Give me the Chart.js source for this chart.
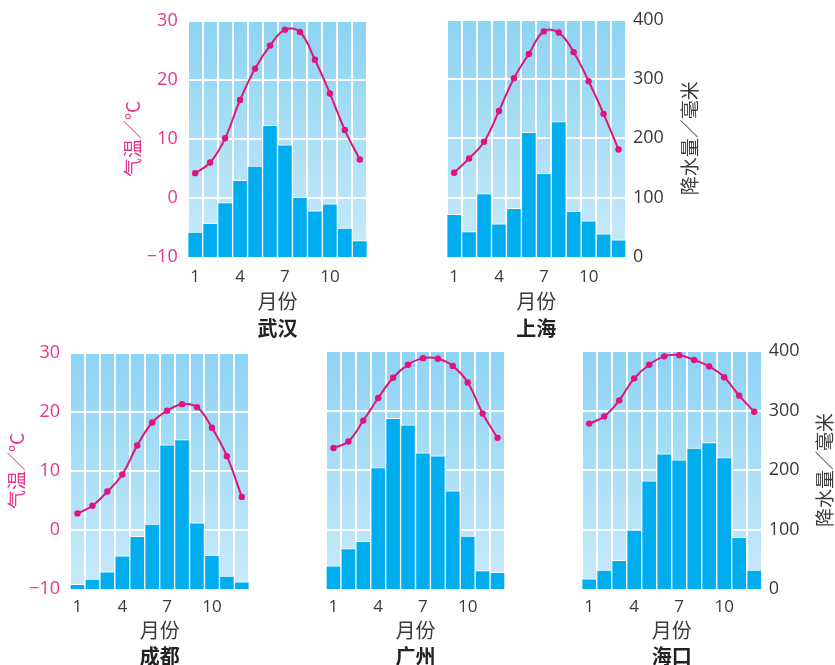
<!DOCTYPE html>
<html>
<head>
<meta charset="utf-8">
<script src="https://cdn.jsdelivr.net/npm/chart.js@4"></script>
<style>
  html, body { margin: 0; padding: 0; background: #fff; overflow: hidden; }
  body { width: 835px; height: 665px; position: relative; }
  .panel { position: absolute; }
</style>
</head>
<body>
<div class="panel" id="p-wuhan" style="left:100px;top:0;width:280px;height:340px"><canvas id="c-wuhan"></canvas></div>
<div class="panel" id="p-shanghai" style="left:420px;top:0;width:290px;height:340px"><canvas id="c-shanghai"></canvas></div>
<div class="panel" id="p-chengdu" style="left:0;top:332px;width:265px;height:340px"><canvas id="c-chengdu"></canvas></div>
<div class="panel" id="p-guangzhou" style="left:300px;top:332px;width:230px;height:340px"><canvas id="c-guangzhou"></canvas></div>
<div class="panel" id="p-haikou" style="left:560px;top:332px;width:275px;height:340px"><canvas id="c-haikou"></canvas></div>
<script>
// months and tick labels
const months = ['1', '2', '3', '4', '5', '6', '7', '8', '9', '10', '11', '12'];
const shownMonths = ['1', '4', '7', '10'];
const tempTicks = [-10, 0, 10, 20, 30];
const rainTicks = [0, 100, 200, 300, 400];

// 气温 (°C) and 降水量 (毫米)
const wuhanTemp = [4.2, 6.0, 10.1, 16.6, 21.9, 25.8, 28.5, 28.1, 23.4, 17.7, 11.5, 6.5];
const wuhanRain = [42, 57, 92, 130, 154, 223, 190, 101, 78, 90, 49, 28];
const shanghaiTemp = [4.2, 6.6, 9.4, 14.6, 20.1, 24.2, 28.0, 27.8, 24.5, 19.6, 14.1, 8.1];
const shanghaiRain = [72, 43, 107, 56, 82, 210, 141, 228, 77, 61, 39, 29];
const chengduTemp = [2.8, 4.1, 6.5, 9.4, 14.3, 18.2, 20.2, 21.3, 20.8, 17.3, 12.5, 5.6];
const chengduRain = [8, 17, 29, 56, 89, 110, 244, 253, 112, 57, 22, 12];
const guangzhouTemp = [13.7, 14.8, 18.3, 22.1, 25.5, 27.7, 28.8, 28.7, 27.5, 24.7, 19.5, 15.4];
const guangzhouRain = [39, 68, 80, 204, 287, 276, 229, 224, 165, 89, 31, 28];
const haikouTemp = [17.8, 19.0, 21.7, 25.4, 27.7, 29.1, 29.3, 28.5, 27.4, 25.6, 22.5, 19.8];
const haikouRain = [17, 32, 48, 99, 182, 227, 217, 237, 246, 221, 87, 32];

const PINK = '#e8348b';
const LINE = '#e0147c';
const GREY = '#3a3a3a';
const BAR = '#00aeef';
const NUM_FONT = "'Open Sans', 'Noto Sans', sans-serif";
const CJK_FONT = "'Noto Sans CJK SC', sans-serif";

// light blue gradient behind the plot area
const panelBg = {
  id: 'panelBg',
  beforeDraw(chart) {
    const { ctx, chartArea: a } = chart;
    const g = ctx.createLinearGradient(0, a.top, 0, a.bottom);
    g.addColorStop(0, '#8dd3f3');
    g.addColorStop(1, '#c9eafa');
    ctx.save();
    ctx.fillStyle = g;
    ctx.fillRect(a.left, a.top, a.width, a.height);
    ctx.restore();
  }
};

// rotated axis titles (both read bottom to top)
const sideTitles = {
  id: 'sideTitles',
  afterDraw(chart, args, opts) {
    const { ctx, chartArea: a } = chart;
    (opts.items || []).forEach(t => {
      ctx.save();
      ctx.translate(t.x, (a.top + a.bottom) / 2);
      ctx.rotate(-Math.PI / 2);
      ctx.font = '19px ' + CJK_FONT;
      ctx.fillStyle = t.color;
      ctx.textAlign = 'center';
      ctx.textBaseline = 'middle';
      ctx.fillText(t.text, 0, 0);
      ctx.restore();
    });
  }
};

function makePanel(canvasId, city, temp, rain, o) {
  const titles = [];
  if (o.tempTitleX != null) titles.push({ text: '气温／°C', color: PINK, x: o.tempTitleX });
  if (o.rainTitleX != null) titles.push({ text: '降水量／毫米', color: GREY, x: o.rainTitleX });

  return new Chart(document.getElementById(canvasId), {
    data: {
      labels: months,
      datasets: [
        {
          type: 'line',
          data: temp,
          yAxisID: 'y',
          order: 0,
          borderColor: LINE,
          backgroundColor: LINE,
          borderWidth: 2,
          pointRadius: 3.2,
          pointBorderWidth: 0,
          tension: 0.4
        },
        {
          type: 'bar',
          data: rain,
          yAxisID: 'y1',
          order: 1,
          backgroundColor: BAR,
          borderColor: '#ffffff',
          borderWidth: 1,
          barPercentage: 1,
          categoryPercentage: 1
        }
      ]
    },
    options: {
      responsive: true,
      maintainAspectRatio: false,
      animation: false,
      layout: { padding: { top: o.padTop, left: 0, right: 0, bottom: 0 } },
      plugins: {
        legend: { display: false },
        tooltip: { enabled: false },
        title: {
          display: true,
          position: 'bottom',
          fullSize: false,
          text: city,
          color: '#222',
          font: { family: CJK_FONT, size: 20, weight: 'bold', lineHeight: 1.2 },
          padding: { top: 2, bottom: o.cityPad }
        },
        sideTitles: { items: titles }
      },
      scales: {
        x: {
          afterFit(scale) { scale.height = o.xHeight; },
          grid: { color: '#ffffff', lineWidth: 2, drawTicks: false, offset: true },
          border: { display: false },
          ticks: {
            autoSkip: false,
            maxRotation: 0,
            padding: o.xTickPad,
            color: GREY,
            font: { family: NUM_FONT, size: 17 },
            callback(v, i) { return shownMonths.includes(months[i]) ? months[i] : ''; }
          },
          title: {
            display: true,
            text: '月份',
            color: GREY,
            font: { family: CJK_FONT, size: 20, lineHeight: 1.2 },
            padding: { top: 0, bottom: o.monthPad }
          }
        },
        y: {
          position: 'left',
          min: tempTicks[0],
          max: tempTicks[tempTicks.length - 1],
          afterFit(scale) { scale.width = o.leftW; },
          afterBuildTicks(scale) { scale.ticks = tempTicks.map(v => ({ value: v })); },
          grid: { color: '#ffffff', lineWidth: 2, drawTicks: false },
          border: { display: false },
          ticks: {
            display: o.showTemp,
            padding: 10,
            color: PINK,
            font: { family: NUM_FONT, size: 18 },
            callback(v) { return v < 0 ? '\u2212' + Math.abs(v) : String(v); }
          }
        },
        y1: {
          position: 'right',
          min: rainTicks[0],
          max: rainTicks[rainTicks.length - 1],
          afterFit(scale) { scale.width = o.rightW; },
          afterBuildTicks(scale) { scale.ticks = rainTicks.map(v => ({ value: v })); },
          grid: { display: false, drawTicks: false },
          border: { display: false },
          ticks: {
            display: o.showRain,
            padding: 7,
            color: GREY,
            font: { family: NUM_FONT, size: 18 }
          }
        }
      }
    },
    plugins: [panelBg, sideTitles]
  });
}

const topRow = { padTop: 19.5, xHeight: 57, cityPad: 0, monthPad: 1, xTickPad: 10 };
const bottomRow = { padTop: 19, xHeight: 53.7, cityPad: 3.3, monthPad: 0.7, xTickPad: 8 };

makePanel('c-wuhan', '武汉', wuhanTemp, wuhanRain,
  Object.assign({}, topRow, { leftW: 87.7, rightW: 12.7, showTemp: true, showRain: false, tempTitleX: 33 }));
makePanel('c-shanghai', '上海', shanghaiTemp, shanghaiRain,
  Object.assign({}, topRow, { leftW: 26.7, rightW: 84, showTemp: false, showRain: true, rainTitleX: 270 }));
makePanel('c-chengdu', '成都', chengduTemp, chengduRain,
  Object.assign({}, bottomRow, { leftW: 70, rightW: 15.7, showTemp: true, showRain: false, tempTitleX: 17 }));
makePanel('c-guangzhou', '广州', guangzhouTemp, guangzhouRain,
  Object.assign({}, bottomRow, { leftW: 26, rightW: 25, showTemp: false, showRain: false }));
makePanel('c-haikou', '海口', haikouTemp, haikouRain,
  Object.assign({}, bottomRow, { leftW: 21.7, rightW: 73.3, showTemp: false, showRain: true, rainTitleX: 265 }));
</script>
</body>
</html>
